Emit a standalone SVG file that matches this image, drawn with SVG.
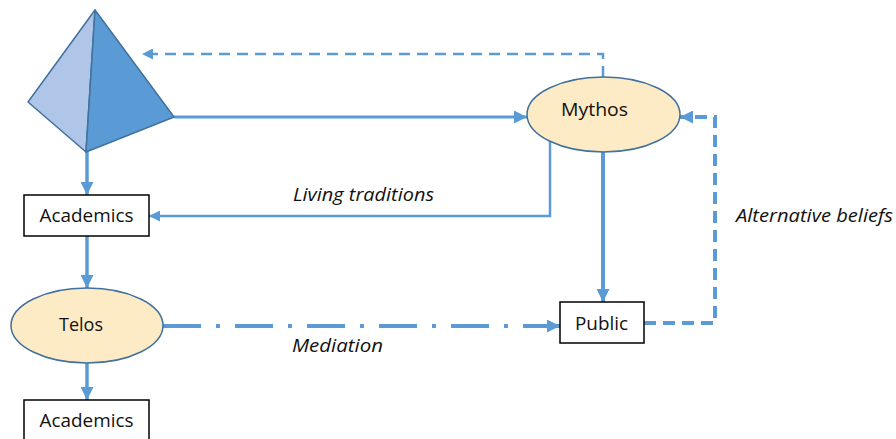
<svg xmlns="http://www.w3.org/2000/svg" width="896" height="439" viewBox="0 0 896 439">
<style>
.box{fill:#ffffff;stroke:#000000;stroke-width:1.5}
.ell{fill:#fdebc6;stroke:#41719c;stroke-width:1.5}
.lbl{font-family:"Open Sans",Lato,"Liberation Sans",sans-serif;font-size:17.5px;fill:#111111}
.it{font-family:"Open Sans",Lato,"Liberation Sans",sans-serif;font-size:17.5px;font-style:italic;fill:#111111}
.c{fill:none;stroke:#5b9bd5}
</style>
<defs>
<marker id="ah" viewBox="0 0 10 10" refX="10" refY="5" markerWidth="11" markerHeight="11" markerUnits="userSpaceOnUse" orient="auto">
<path d="M0,0 L10,5 L0,10 z" fill="#5b9bd5"/>
</marker>
<marker id="ahL" viewBox="0 0 10 10" refX="10" refY="5" markerWidth="13" markerHeight="13" markerUnits="userSpaceOnUse" orient="auto">
<path d="M0,0 L10,5 L0,10 z" fill="#5b9bd5"/>
</marker>
</defs>
<g id="connectors">
<path class="c" d="M174,117 L527,117" stroke-width="3" marker-end="url(#ahL)"/>
<path class="c" d="M87,152 L87,195" stroke-width="3.5" marker-end="url(#ahL)"/>
<path class="c" d="M550,141 L550,216 L149,216" stroke-width="2.5" marker-end="url(#ah)"/>
<path class="c" d="M603,77 L603,54 L142,54" stroke-width="2.5" stroke-dasharray="11 7" marker-end="url(#ah)"/>
<path class="c" d="M603,152 L603,302" stroke-width="4" marker-end="url(#ahL)"/>
<path class="c" d="M644,323 L715,323 L715,117 L680,117" stroke-width="4" stroke-dasharray="12 7" marker-end="url(#ahL)"/>
<path class="c" d="M87,236 L87,288" stroke-width="3.5" marker-end="url(#ahL)"/>
<path class="c" d="M87,363 L87,400" stroke-width="3.5" marker-end="url(#ahL)"/>
<path class="c" d="M163,326 L560,326" stroke-width="4" stroke-dasharray="38 15 4 15" marker-end="url(#ahL)"/>
</g>
<g id="pyramid">
<path d="M95,10 L28,102 L86,152 Z" fill="#b0c6e8" stroke="#41719c" stroke-width="1.5" stroke-linejoin="round"/>
<path d="M95,10 L174,117 L86,152 Z" fill="#5b9bd5" stroke="#41719c" stroke-width="1.5" stroke-linejoin="round"/>
</g>
<g id="mythos">
<ellipse class="ell" cx="603.5" cy="114.5" rx="76.5" ry="37.5"/>
<text class="lbl" x="561" y="116" textLength="67" lengthAdjust="spacingAndGlyphs">Mythos</text>
</g>
<g id="academics1">
<rect class="box" x="24" y="195" width="125" height="41"/>
<text class="lbl" x="39.5" y="222" textLength="94" lengthAdjust="spacingAndGlyphs">Academics</text>
</g>
<g id="telos">
<ellipse class="ell" cx="87" cy="325.5" rx="76" ry="37.5"/>
<text class="lbl" x="59" y="331" textLength="44" lengthAdjust="spacingAndGlyphs">Telos</text>
</g>
<g id="public">
<rect class="box" x="560" y="302" width="84" height="41"/>
<text class="lbl" x="575" y="330" textLength="53" lengthAdjust="spacingAndGlyphs">Public</text>
</g>
<g id="academics2">
<rect class="box" x="24" y="400" width="125" height="41"/>
<text class="lbl" x="39.5" y="427" textLength="94" lengthAdjust="spacingAndGlyphs">Academics</text>
</g>
<g id="labels">
<text class="it" x="293" y="201" textLength="141" lengthAdjust="spacingAndGlyphs">Living traditions</text>
<text class="it" x="292" y="352" textLength="91" lengthAdjust="spacingAndGlyphs">Mediation</text>
<text class="it" x="736" y="222" textLength="157" lengthAdjust="spacingAndGlyphs">Alternative beliefs</text>
</g>
</svg>
